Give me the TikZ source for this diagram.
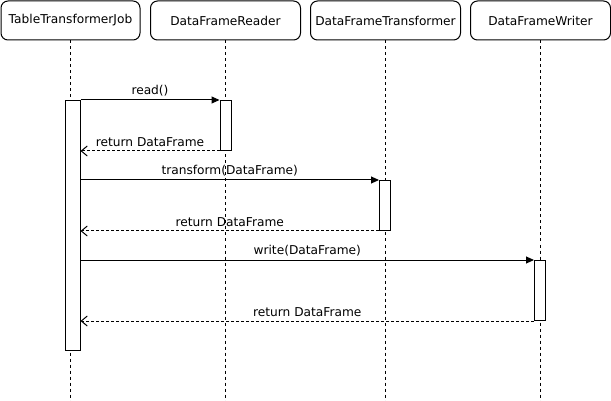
\documentclass[tikz,border=0pt]{standalone}
\usepackage{fontspec}
\setmainfont{DejaVu Sans}
\usetikzlibrary{positioning,calc,arrows.meta}

\begin{document}
\begin{tikzpicture}[x=1pt, y=-1pt, line width=1pt, on grid, font=\fontsize{12.2}{14}\selectfont,
		head/.style={draw, rounded corners=7pt, minimum height=39pt, inner sep=2pt},
		act/.style={draw, fill=white, minimum width=11pt, anchor=north, inner sep=0pt},
		life/.style={dash pattern=on 3pt off 3pt},
		call/.style={-{Triangle[length=8pt,width=7pt]}},
		ret/.style={dash pattern=on 3pt off 2pt, -{Straight Barb[length=6pt,width=10pt]}}]
			\useasboundingbox (0,0) rectangle (611,401);
			% participants
			\node[head, minimum width=139pt] (h_1) at (70.5,20.5) {TableTransformerJob};
			\node[head, minimum width=150pt] (h_2) [right=155pt of h_1] {DataFrameReader};
			\node[head, minimum width=150pt] (h_3) [right=160pt of h_2] {DataFrameTransformer};
			\node[head, minimum width=140pt] (h_4) [right=155pt of h_3] {DataFrameWriter};
			% lifelines
			\foreach \i in {1,...,4}
				\draw[life] (h_\i.south) -- (h_\i.south |- 0,401);
			% activations
			\node[act, minimum width=15pt, minimum height=250pt] (a_1) at (72.5,100) {};
			\node[act, minimum height=50pt] (a_2) at (225.5,100) {};
			\node[act, minimum height=50pt] (a_3) at (385,180) {};
			\node[act, minimum height=60pt] (a_4) at (540,260) {};
			% messages
			\draw[call] (a_1.north east) -- node[above] {read()} (a_2.north west);
			\draw[ret] (a_2.south west) -- node[above] {return DataFrame} (a_1.east |- a_2.south);
			\draw[call] (a_1.east |- a_3.north) -- node[above] {transform(DataFrame)} (a_3.north west);
			\draw[ret] (a_3.south west) -- node[above] {return DataFrame} (a_1.east |- a_3.south);
			\draw[call] (a_1.east |- a_4.north) -- node[above] {write(DataFrame)} (a_4.north west);
			\draw[ret] (a_4.south west) -- node[above] {return DataFrame} (a_1.east |- a_4.south);
		\end{tikzpicture}
\end{document}
